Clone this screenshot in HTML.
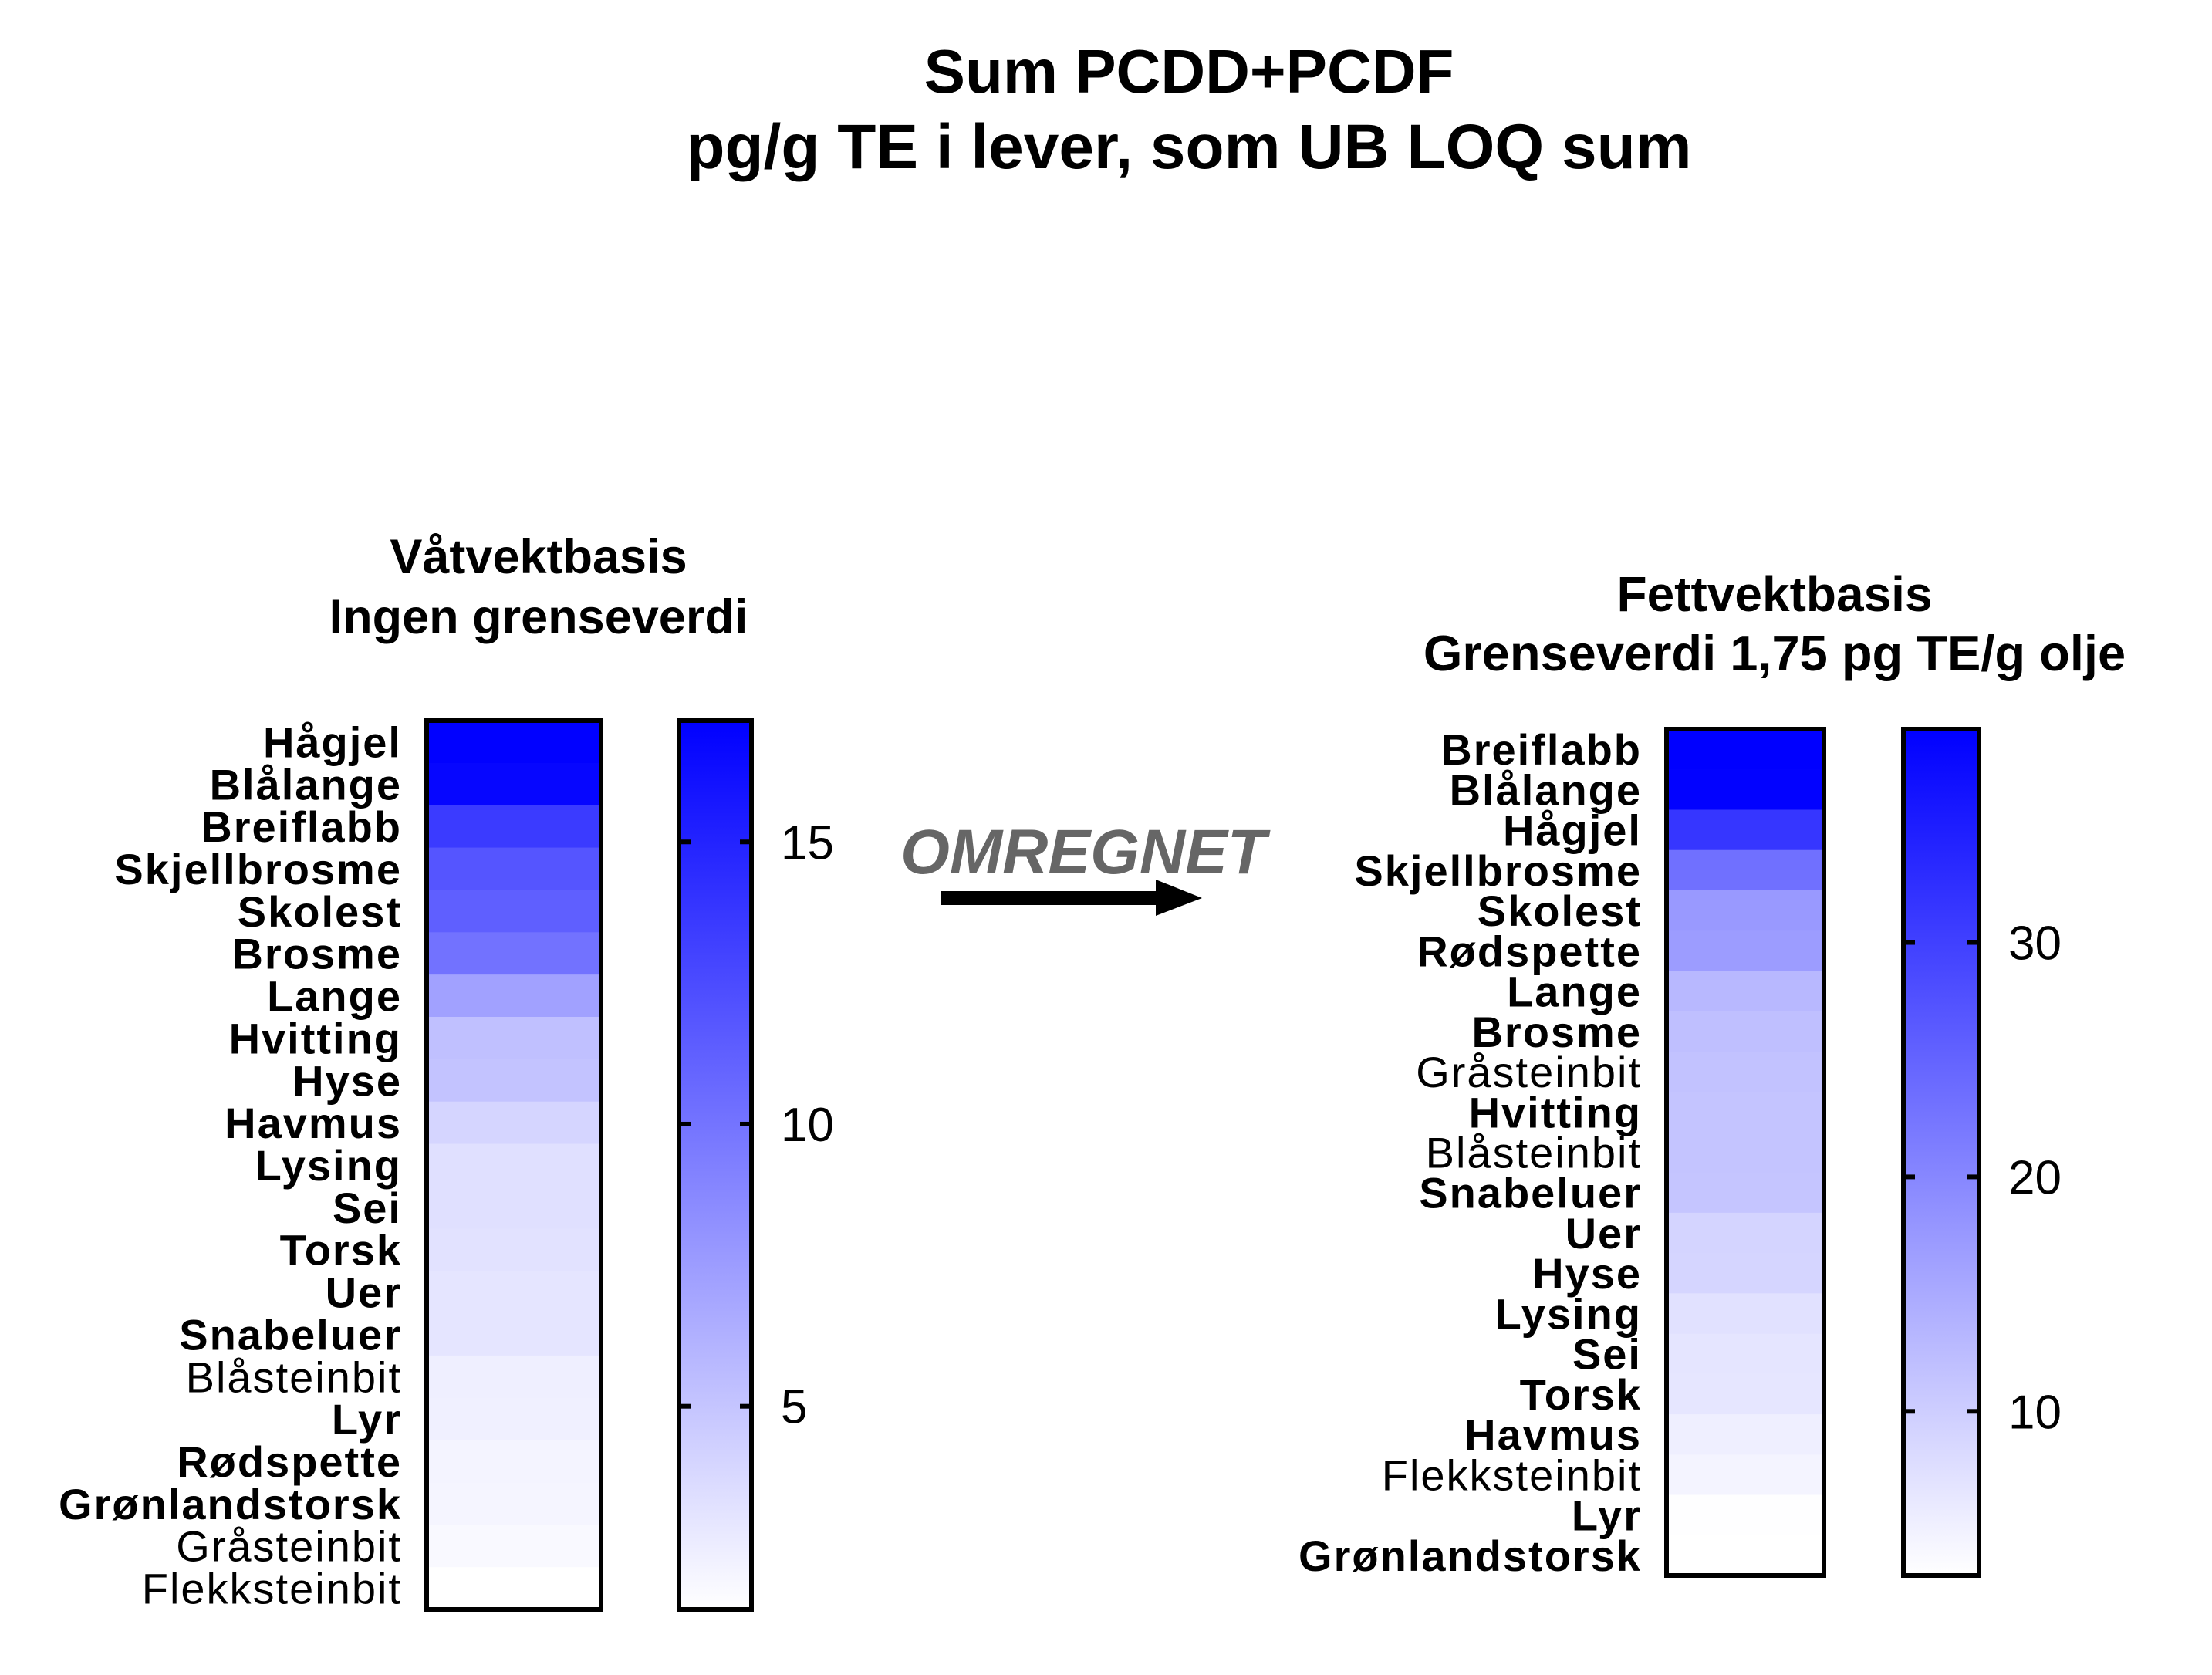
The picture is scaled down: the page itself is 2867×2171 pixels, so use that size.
<!DOCTYPE html>
<html><head><meta charset="utf-8"><style>
html,body{margin:0;padding:0;background:#fff;}
svg{display:block;font-family:"Liberation Sans",Arial,sans-serif;}
</style></head><body>
<svg id="chart" width="2867" height="2171" viewBox="0 0 2867 2171" xmlns="http://www.w3.org/2000/svg">
<text x="1541" y="120" text-anchor="middle" font-size="80" font-weight="bold">Sum PCDD+PCDF</text>
<text x="1541" y="218" text-anchor="middle" font-size="82" font-weight="bold">pg/g TE i lever, som UB LOQ sum</text>
<text x="698" y="743" text-anchor="middle" font-size="63" font-weight="bold">Våtvektbasis</text>
<text x="698" y="821" text-anchor="middle" font-size="63" font-weight="bold">Ingen grenseverdi</text>
<text x="2300" y="792" text-anchor="middle" font-size="64" font-weight="bold">Fettvektbasis</text>
<text x="2300" y="869" text-anchor="middle" font-size="65" font-weight="bold">Grenseverdi 1,75 pg TE/g olje</text>
<text x="1404" y="1132" text-anchor="middle" font-size="82" font-weight="bold" font-style="italic" fill="#666">OMREGNET</text>
<rect x="1219" y="1155" width="282" height="18" fill="#000"/>
<polygon points="1498,1140 1558,1164 1498,1187" fill="#000"/>
<defs>
<linearGradient id="cbg" x1="0" y1="1" x2="0" y2="0"><stop offset="0" stop-color="#fff"/><stop offset="1" stop-color="#0000ff"/></linearGradient>
</defs>
<g id="left"></g>
<g id="right"></g>
</svg>
<script>
const leftNames = ["Hågjel","Blålange","Breiflabb","Skjellbrosme","Skolest","Brosme","Lange","Hvitting","Hyse","Havmus","Lysing","Sei","Torsk","Uer","Snabeluer","Blåsteinbit","Lyr","Rødspette","Grønlandstorsk","Gråsteinbit","Flekksteinbit"];
const leftValues = [17.1,16.8,13.5,11.9,11.3,10.1,7.2,5.3,5.1,4.0,3.3,3.3,3.2,3.0,3.0,2.4,2.3,2.1,2.0,1.8,1.4];
const leftTicks = [5,10,15];
const rightNames = ["Breiflabb","Blålange","Hågjel","Skjellbrosme","Skolest","Rødspette","Lange","Brosme","Gråsteinbit","Hvitting","Blåsteinbit","Snabeluer","Uer","Hyse","Lysing","Sei","Torsk","Havmus","Flekksteinbit","Lyr","Grønlandstorsk"];
const rightValues = [39.1,38.8,31.5,23.2,17.4,17.0,13.1,12.1,11.6,11.4,11.3,11.2,9.1,8.9,7.2,6.7,6.6,5.3,4.6,3.1,3.0];
const rightTicks = [10,20,30];
const regular = ["Blåsteinbit","Gråsteinbit","Flekksteinbit"];
const NS = "http://www.w3.org/2000/svg";
function mk(tag, attrs, parent){const e=document.createElementNS(NS,tag);for(const k in attrs)e.setAttribute(k,attrs[k]);parent.appendChild(e);return e;}
function panel(g, side, names, values, ticks, cfg){
  const n=names.length, rh=(cfg.y1-cfg.y0)/n;
  const col=v=>{const t=Math.max(0,Math.min(1,(v-cfg.vmin)/(cfg.vmax-cfg.vmin)));const c=Math.round(255*(1-t));return `rgb(${c},${c},255)`;};
  const yv=v=>cfg.y1-(v-cfg.vmin)/(cfg.vmax-cfg.vmin)*(cfg.y1-cfg.y0);
  names.forEach((nm,i)=>{
    const r=mk('rect',{x:cfg.hx,y:cfg.y0+i*rh,width:cfg.hw,height:rh+0.5,fill:col(values[i])},g);
    
    
    const t=mk('text',{x:cfg.lx,y:cfg.y0+(i+0.5)*rh+20,'text-anchor':'end','font-size':cfg.fs,'letter-spacing':2,'font-weight':regular.includes(nm)?'normal':'bold'},g);
    t.textContent=nm;
    
    
  });
  const b=mk('rect',{x:cfg.hx,y:cfg.y0,width:cfg.hw,height:cfg.y1-cfg.y0,fill:'none',stroke:'#000','stroke-width':6},g);
  
  
  const cb=mk('rect',{x:cfg.cx,y:cfg.y0,width:cfg.cw,height:cfg.y1-cfg.y0,fill:'url(#cbg)',stroke:'#000','stroke-width':6},g);
  
  
  ticks.forEach(v=>{
    const y=yv(v);
    const t1=mk('line',{x1:cfg.cx,x2:cfg.cx+15,y1:y,y2:y,stroke:'#000','stroke-width':6},g);
    
    
    const t2=mk('line',{x1:cfg.cx+cfg.cw-15,x2:cfg.cx+cfg.cw,y1:y,y2:y,stroke:'#000','stroke-width':6},g);
    
    
    const tl=mk('text',{x:cfg.cx+cfg.cw+38,y:y+22,'font-size':62},g);
    tl.textContent=String(v);
    
    
  });
}
panel(document.getElementById('left'),'left',leftNames,leftValues,leftTicks,{hx:553,hw:226,y0:934,y1:2086,cx:880,cw:94,vmin:1.4,vmax:17.15,lx:521,fs:56});
panel(document.getElementById('right'),'right',rightNames,rightValues,rightTicks,{hx:2160,hw:204,y0:945,y1:2042,cx:2467,cw:98,vmin:3.0,vmax:39.1,lx:2128,fs:56});
</script>
</body></html>
